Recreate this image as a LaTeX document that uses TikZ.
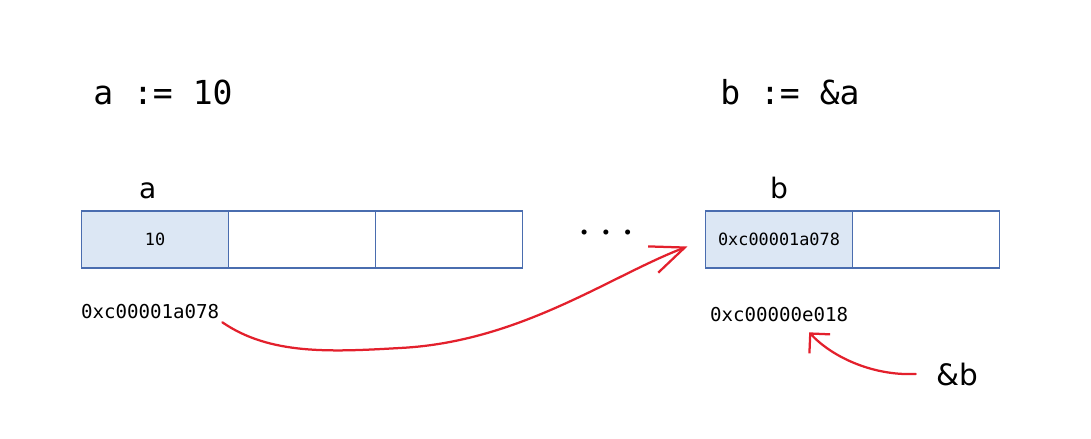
\documentclass[tikz,border=0pt]{standalone}
\usepackage{fontspec}
\setmonofont{DejaVu Sans Mono}
\setsansfont{DejaVu Sans}
\usetikzlibrary{arrows.meta,positioning}
\definecolor{cellblue}{HTML}{4A6DAF}
\definecolor{cellfill}{HTML}{DCE7F4}
\definecolor{penred}{HTML}{E3202C}
\tikzstyle{cell}=[draw=cellblue, line width=1.2pt, minimum width=3.675cm, minimum height=1.425cm, inner sep=0pt, outer sep=0pt, font=\ttfamily\fontsize{12}{12}\selectfont]
\tikzstyle{fcell}=[cell, fill=cellfill]
\tikzstyle{code}=[inner sep=0pt, font=\ttfamily\fontsize{23.5}{23.5}\selectfont]
\tikzstyle{var}=[inner sep=0pt, font=\sffamily\fontsize{20}{20}\selectfont]
\tikzstyle{addr}=[inner sep=2pt, font=\ttfamily\fontsize{13.6}{13.6}\selectfont]
\tikzstyle{pen}=[draw=penred, line width=1.6pt, line cap=round]
\begin{document}
\begin{tikzpicture}[x=0.025cm, y=-0.025cm]
  \useasboundingbox (0,0) rectangle (1091,439);
%
  \node[code, anchor=west] (ta) at (93,92) {a := 10};
  \node[code, anchor=west] (tb) at (720,92) {b := \&a};
%
  \node[fcell] (a0) at (155,239.5) {10};
  \node[cell] (a1) [right=0pt of a0] {};
  \node[cell] (a2) [right=0pt of a1] {};
  \node[var] (la) [above=0.3cm of a0, xshift=-0.18cm] {a};
  \node[addr, anchor=west] (pa) at (78,312) {0xc00001a078};
%
  \node[font=\rmfamily\fontsize{16}{16}\selectfont, anchor=base] (dots) at (606,238) {\textbullet\hspace{4pt}\textbullet\hspace{4pt}\textbullet};
%
  \node[fcell] (b0) at (779,239.5) {0xc00001a078};
  \node[cell] (b1) [right=0pt of b0] {};
  \node[var] (lb) [above=0.3cm of b0] {b};
  \node[addr, anchor=west] (pb) at (707,315) {0xc00000e018};
  \node[var, font=\sffamily\fontsize{21}{21}\selectfont] (rb) at (957,374) {\&b};
%
  \draw[pen, -{Straight Barb[length=24pt, width=20pt]}]
  (pa.south east) .. controls (270,355) and (330,352) .. (400,348)
  .. controls (520,342) and (610,276) .. ([shift={(-18,7)}]b0.west);
  \draw[pen, -{Straight Barb[length=10pt, width=20pt]}]
  ([shift={(-20,0)}]rb.west) .. controls (870,376) and (830,355) .. ([shift={(30,7)}]pb.south);
\end{tikzpicture}
\end{document}
